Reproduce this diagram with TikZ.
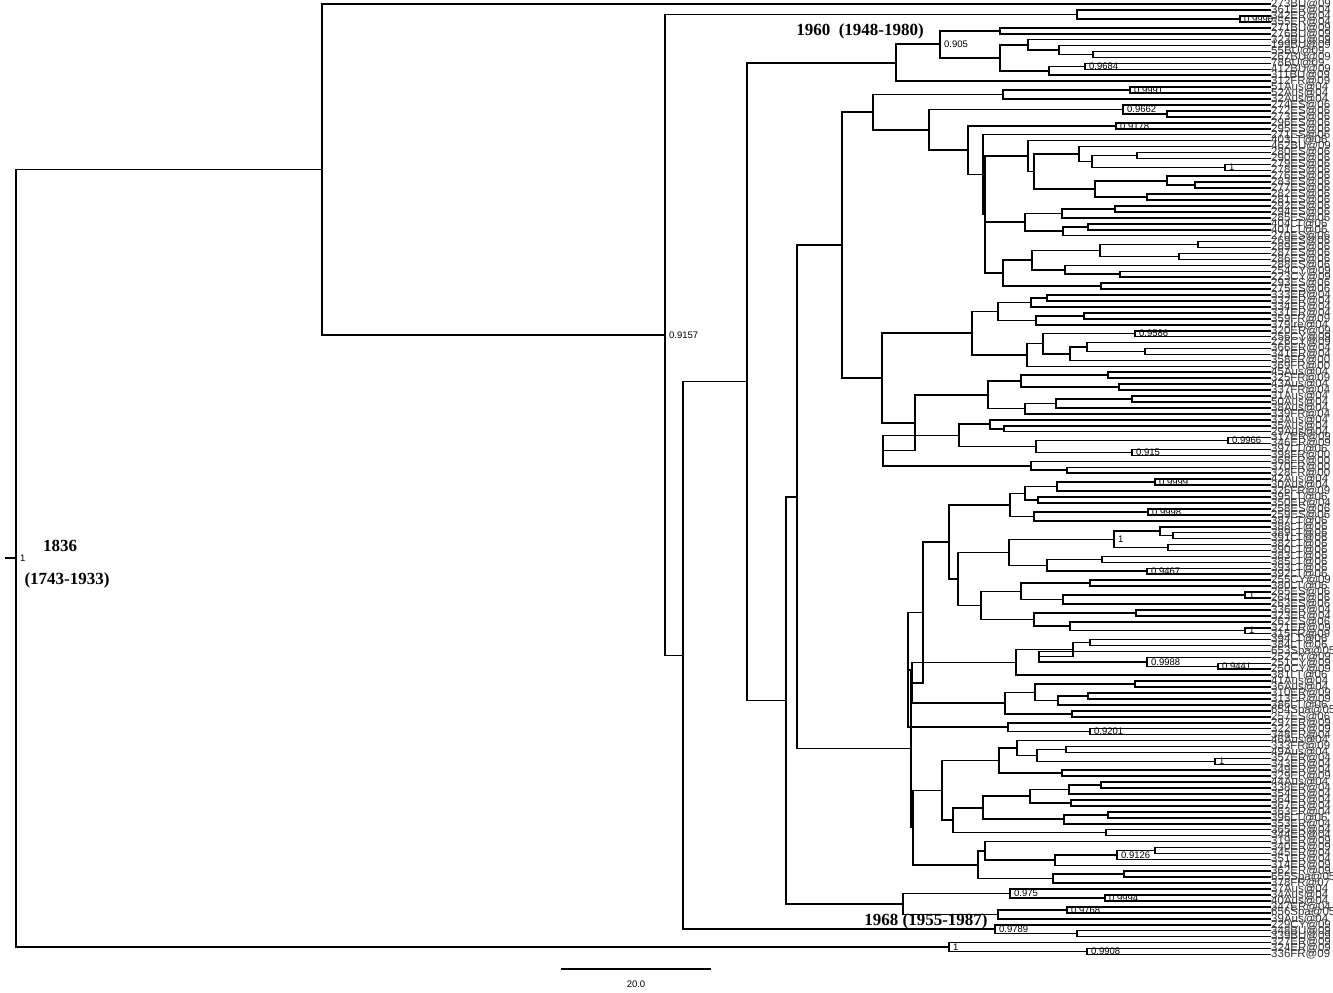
\documentclass[tikz,border=0pt]{standalone}
\usepackage{fontspec}
\setmainfont{Liberation Serif}
\newfontfamily\lsans{Liberation Sans}
\usetikzlibrary{calc}
\tikzset{
  tree/.style={line width=1.6pt, black},
  lab/.style={anchor=west, inner sep=0pt, font=\lsans\fontsize{11.5}{11.5}\selectfont, text=black!80},
  sv/.style={anchor=west, inner sep=0pt, font=\lsans\fontsize{9.5}{9.5}\selectfont},
  big/.style={inner sep=0pt, font=\bfseries\fontsize{17}{17}\selectfont}
}
\newcommand\bn[4]{%
  \path let \p1=(#3), \p2=(#4) in coordinate (#1) at (#2pt,{0.5*(\y1+\y2)});
  \draw[tree] (#3) -- (#1 |- #3) -- (#1 |- #4) -- (#4);
}
\newcommand\tn[5]{%
  \path let \p1=(#3), \p2=(#5) in coordinate (#1) at (#2pt,{0.5*(\y1+\y2)});
  \draw[tree] (#3) -- (#1 |- #3) -- (#1 |- #5) -- (#5) (#1 |- #4) -- (#4);
}
\newcommand\sval[2]{\node[sv] at ([xshift=4pt]#1) {#2};}
\begin{document}
\begin{tikzpicture}[x=1pt,y=-1pt]
\useasboundingbox (0,0) rectangle (1333,993);
\foreach \i/\t in {0/273BU@09,1/361ER@04,2/342ER@04,3/355ER@04,4/271BU@09,5/276BU@09,6/323BU@09,7/199BU@09,8/55BU@09,9/267BU@09,10/78BU@09,11/412BU@09,12/311BU@09,13/312FR@09,14/51Aus@04,15/52Aus@04,16/32Aus@04,17/274ES@06,18/272ES@06,19/273ES@06,20/296ES@06,21/295ES@06,22/271ES@06,23/403LT@06,24/462BU@09,25/280ES@06,26/290ES@06,27/279ES@06,28/278ES@06,29/276ES@06,30/283ES@06,31/277ES@06,32/282ES@06,33/281ES@06,34/292ES@06,35/294ES@06,36/285ES@06,37/404LT@06,38/401LT@06,39/270ES@06,40/269ES@06,41/289ES@06,42/287ES@06,43/286ES@06,44/288ES@06,45/254CY@09,46/223CY@09,47/293ES@06,48/275ES@06,49/333ER@04,50/332ER@04,51/334ER@04,52/331ER@04,53/359FR@09,54/379Ire@04,55/320ER@09,56/256CY@09,57/226CY@09,58/366ER@04,59/341ER@04,60/358FR@00,61/369FR@00,62/45Aus@04,63/325FR@09,64/43Aus@04,65/337FR@04,66/31Aus@04,67/50Aus@04,68/38Aus@04,69/339FR@04,70/33Aus@04,71/35Aus@04,72/29Aus@04,73/317ER@09,74/346ER@09,75/397LT@06,76/398FR@00,77/368FR@00,78/370FR@00,79/328FR@00,80/42Aus@04,81/30Aus@04,82/326FR@09,83/395LT@06,84/350ER@04,85/258ES@06,86/259ES@06,87/387LT@06,88/388LT@06,89/389LT@06,90/391LT@06,91/382LT@06,92/390LT@06,93/383LT@06,94/385LT@06,95/393LT@06,96/392LT@06,97/255CY@09,98/380LT@06,99/265ES@06,100/264ES@06,101/263ES@06,102/336ER@04,103/323ER@04,104/262ES@06,105/321ER@09,106/315FR@09,107/394LT@06,108/384LT@06,109/653Spa@05,110/252CY@09,111/251CY@09,112/250CY@09,113/381LT@06,114/41Aus@04,115/36Aus@04,116/310ER@09,117/313ER@09,118/386LT@06,119/654Spa@05,120/257ES@06,121/297ER@09,122/322ER@09,123/348ER@04,124/46Aus@04,125/333FR@09,126/49Aus@04,127/357ER@04,128/343ER@04,129/349ER@04,130/329ER@09,131/44Aus@04,132/338ER@04,133/354ER@04,134/364ER@04,135/367ER@04,136/363ER@04,137/396LT@06,138/353ER@04,139/365ER@04,140/344ER@04,141/319ER@09,142/340ER@09,143/345ER@04,144/351ER@04,145/314ER@09,146/362ER@09,147/655Spa@05,148/378FR@07,149/37Aus@04,150/34Aus@04,151/40Aus@04,152/347ER@04,153/656Spa@05,154/39Aus@04,155/229CY@09,156/348BU@09,157/339BU@09,158/327ER@09,159/324ER@09,160/336FR@09}
  {\node[lab] (L\i) at (1271,{4+5.94*\i}) {\t};}
% top clades
\bn{n1240}{1240}{L2.west}{L3.west}
\bn{n1077}{1077}{L1.west}{n1240}
\bn{nE}{1000}{L4.west}{L5.west}
\bn{nI}{1093}{L8.west}{L9.west}
\bn{nH}{1059}{L7.west}{nI}
\bn{nG}{1028}{L6.west}{nH}
\bn{nK}{1085}{L10.west}{L11.west}
\bn{nJ}{1049}{nK}{L12.west}
\bn{nF}{1000}{nG}{nJ}
\bn{nD}{940}{nE}{nF}
\bn{nC}{896}{nD}{L13.west}
% N873
\bn{n1130}{1130}{L14.west}{L15.west}
\bn{n1003a}{1003}{n1130}{L16.west}
\bn{n1167b}{1167}{L18.west}{L19.west}
\bn{n1123}{1123}{L17.west}{n1167b}
\bn{n1116}{1116}{L20.west}{L21.west}
\bn{n1137}{1137}{L25.west}{L26.west}
\bn{n1223}{1225}{L27.west}{L28.west}
\bn{n1092}{1092}{n1137}{n1223}
\bn{n1079}{1079}{L24.west}{n1092}
\bn{n1195}{1195}{L30.west}{L31.west}
\bn{n1167}{1167}{L29.west}{n1195}
\bn{n1147}{1147}{L32.west}{L33.west}
\bn{n1095}{1095}{n1167}{n1147}
\bn{n1034}{1034}{n1079}{n1095}
\bn{n1028}{1028}{L23.west}{n1034}
\bn{n1115}{1115}{L34.west}{L35.west}
\bn{n1062}{1062}{n1115}{L36.west}
\bn{n1088}{1088}{L37.west}{L38.west}
\bn{n1063}{1063}{n1088}{L39.west}
\bn{n1025}{1025}{n1062}{n1063}
\bn{n1198}{1198}{L40.west}{L41.west}
\bn{n1179}{1179}{L42.west}{L43.west}
\bn{n1100}{1100}{n1198}{n1179}
\bn{n1120}{1120}{L45.west}{L46.west}
\bn{n1065}{1065}{L44.west}{n1120}
\bn{n1032}{1032}{n1100}{n1065}
\bn{n1101}{1101}{L47.west}{L48.west}
\bn{n1003b}{1003}{n1032}{n1101}
\tn{n985}{985}{n1028}{n1025}{n1003b}
\bn{n983}{983}{L22.west}{n985}
\bn{n968}{968}{n1116}{n983}
\bn{n929}{929}{n1123}{n968}
\bn{n873}{873}{n1003a}{n929}
% N882
\bn{n1047}{1047}{L49.west}{L50.west}
\bn{n1031}{1031}{n1047}{L51.west}
\bn{n1084}{1084}{L52.west}{L53.west}
\bn{n1036}{1036}{n1084}{L54.west}
\bn{n998}{998}{n1031}{n1036}
\bn{n1135}{1135}{L55.west}{L56.west}
\bn{n1145}{1145}{L58.west}{L59.west}
\bn{n1087}{1087}{L57.west}{n1145}
\bn{n1070}{1070}{n1087}{L60.west}
\bn{n1043}{1043}{n1135}{n1070}
\bn{n1027}{1027}{n1043}{L61.west}
\bn{n972}{972}{n998}{n1027}
\bn{n1108}{1108}{L62.west}{L63.west}
\bn{n1119}{1119}{L64.west}{L65.west}
\bn{n1021}{1021}{n1108}{n1119}
\bn{n1132b}{1132}{L66.west}{L67.west}
\bn{n1056}{1056}{n1132b}{L68.west}
\bn{n1025c}{1025}{n1056}{L69.west}
\bn{n988}{988}{n1021}{n1025c}
\bn{n1004}{1004}{L71.west}{L72.west}
\bn{n990}{990}{L70.west}{n1004}
\bn{n1228}{1228}{L73.west}{L74.west}
\bn{n1132}{1132}{L75.west}{L76.west}
\bn{n1036c}{1036}{n1228}{n1132}
\bn{n959}{959}{n990}{n1036c}
\bn{n1067}{1067}{L78.west}{L79.west}
\bn{n1031c}{1031}{L77.west}{n1067}
\bn{n883}{883}{n959}{n1031c}
\bn{n915}{915}{n988}{n883}
\bn{n882}{882}{n972}{n915}
\bn{n842}{842}{n873}{n882}
% N912
\bn{n1155}{1155}{L80.west}{L81.west}
\bn{n1057}{1057}{n1155}{L82.west}
\bn{n1038}{1038}{L83.west}{L84.west}
\bn{n1025d}{1025}{n1057}{n1038}
\bn{n1148}{1148}{L85.west}{L86.west}
\bn{n1034d}{1034}{n1148}{L87.west}
\bn{n1010}{1010}{n1025d}{n1034d}
\bn{n1173}{1173}{L89.west}{L90.west}
\bn{n1160}{1160}{L88.west}{n1173}
\bn{n1168}{1168}{L91.west}{L92.west}
\bn{n1114}{1114}{n1160}{n1168}
\bn{n1102}{1102}{L93.west}{L94.west}
\bn{n1147c}{1147}{L95.west}{L96.west}
\bn{n1047d}{1047}{n1102}{n1147c}
\bn{n1009}{1009}{n1114}{n1047d}
\bn{n1090}{1090}{L97.west}{L98.west}
\bn{n1245}{1245}{L99.west}{L100.west}
\bn{n1063d}{1063}{n1245}{L101.west}
\bn{n1021b}{1021}{n1090}{n1063d}
\bn{n1136}{1136}{L102.west}{L103.west}
\bn{n1245b}{1245}{L105.west}{L106.west}
\bn{n1070d}{1070}{L104.west}{n1245b}
\bn{n1034b}{1034}{n1136}{n1070d}
\bn{n981}{981}{n1021b}{n1034b}
\bn{n958}{958}{n1009}{n981}
\bn{n949}{949}{n1010}{n958}
\bn{n1090e}{1090}{L107.west}{L108.west}
\bn{n1218}{1218}{L111.west}{L112.west}
\bn{n1147e}{1147}{L110.west}{n1218}
\bn{n1039}{1039}{L109.west}{n1147e}
\bn{n1073}{1073}{n1090e}{n1039}
\bn{n1016}{1016}{n1073}{L113.west}
\bn{n1135e}{1135}{L114.west}{L115.west}
\bn{n1088e}{1088}{L116.west}{L117.west}
\bn{n1058}{1058}{n1088e}{L118.west}
\bn{n1035}{1035}{n1135e}{n1058}
\bn{n1072}{1072}{L119.west}{L120.west}
\bn{n1005}{1005}{n1035}{n1072}
\bn{n912a}{912}{n1016}{n1005}
\bn{n923}{923}{n949}{n912a}
\bn{n1090f}{1090}{L122.west}{L123.west}
\bn{n1008}{1008}{L121.west}{n1090f}
\bn{n908}{908}{n923}{n1008}
\bn{n1066}{1066}{L125.west}{L126.west}
\bn{n1215}{1215}{L127.west}{L128.west}
\bn{n1037}{1037}{n1066}{n1215}
\bn{n1017}{1017}{L124.west}{n1037}
\bn{n1062g}{1062}{L129.west}{L130.west}
\bn{n999}{999}{n1017}{n1062g}
\bn{n1101g}{1101}{L131.west}{L132.west}
\bn{n1069}{1069}{n1101g}{L133.west}
\bn{n1071}{1071}{L134.west}{L135.west}
\bn{n1030}{1030}{n1069}{n1071}
\bn{n1108g}{1108}{L136.west}{L137.west}
\bn{n1064}{1064}{n1108g}{L138.west}
\bn{n983b}{983}{n1030}{n1064}
\bn{n1106}{1106}{L139.west}{L140.west}
\bn{n953}{953}{n983b}{n1106}
\bn{n942}{942}{n999}{n953}
\bn{n1155h}{1155}{L142.west}{L143.west}
\bn{n1117}{1117}{n1155h}{L144.west}
\bn{n1055}{1055}{n1117}{L145.west}
\bn{n985b}{985}{L141.west}{n1055}
\bn{n1124}{1124}{L146.west}{L147.west}
\bn{n1053}{1053}{n1124}{L148.west}
\bn{n978}{978}{n985b}{n1053}
\bn{n913}{913}{n942}{n978}
\bn{n912b}{911}{n908}{n913}
\bn{n797}{797}{n842}{n912b}
% 1968 clade
\bn{n1105}{1105}{L150.west}{L151.west}
\bn{n1010b}{1010}{L149.west}{n1105}
\bn{n1067b}{1067}{L152.west}{L153.west}
\bn{n998b}{998}{n1067b}{L154.west}
\bn{n903}{903}{n1010b}{n998b}
\bn{n786}{786}{n797}{n903}
\bn{n747}{747}{nC}{n786}
\bn{n1077b}{1077}{L156.west}{L157.west}
\bn{n995}{995}{L155.west}{n1077b}
\bn{n683}{683}{n747}{n995}
\bn{nB}{665}{n1077}{n683}
\bn{nA}{322}{L0.west}{nB}
\bn{n1087b}{1087}{L159.west}{L160.west}
\bn{n949b}{949}{L158.west}{n1087b}
\bn{root}{16}{nA}{n949b}
\path let \p1=(root) in coordinate (tick) at (5pt,\y1);
\draw[tree] (tick) -- (root);
% support values
\sval{n1240}{0.9996}
\sval{nD}{0.905}
\sval{nK}{0.9684}
\sval{n1130}{0.9991}
\sval{n1123}{0.9662}
\sval{n1116}{0.9178}
\sval{n1223}{1}
\sval{n1135}{0.9586}
\sval{n1228}{0.9966}
\sval{n1132}{0.915}
\sval{n1155}{0.9999}
\sval{n1148}{0.9998}
\sval{n1114}{1}
\sval{n1147c}{0.9467}
\sval{n1245}{1}
\sval{n1245b}{1}
\sval{n1147e}{0.9988}
\sval{n1218}{0.9441}
\sval{n1090f}{0.9201}
\sval{n1215}{1}
\sval{n1117}{0.9126}
\sval{n1010b}{0.975}
\sval{n1105}{0.9994}
\sval{n1067b}{0.9768}
\sval{n995}{0.9789}
\sval{n949b}{1}
\sval{n1087b}{0.9908}
\sval{nB}{0.9157}
\sval{root}{1}
% dates
\node[big] (d1) at (60,546) {1836};
\node[big] (d2) at (67,580) {(1743-1933)};
\node[big] (d3) at (860,31) {1960\ \ (1948-1980)};
\node[big] (d4) at (926,921) {1968 (1955-1987)};
% scale bar
\coordinate (s1) at (561,969);
\coordinate (s2) at (711,969);
\draw[line width=1.2pt] (s1) -- (s2);
\node[sv, anchor=center] (sl) at (636,984) {20.0};
\end{tikzpicture}
\end{document}
